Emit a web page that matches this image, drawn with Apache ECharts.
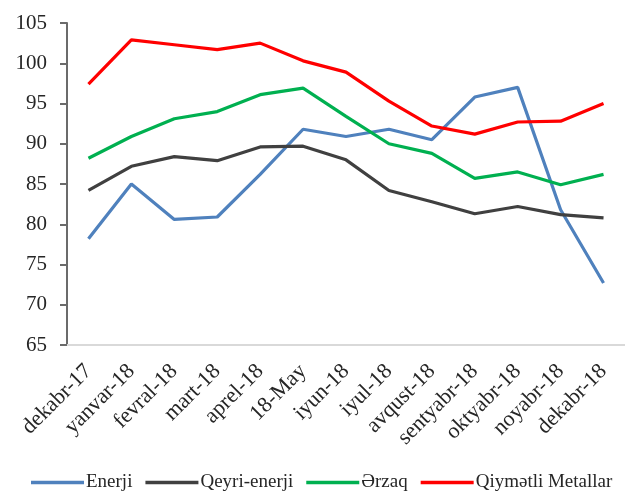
<!DOCTYPE html>
<html><head><meta charset="utf-8">
<script src="https://cdn.jsdelivr.net/npm/echarts@6/dist/echarts.min.js"></script>
<style>html,body{margin:0;padding:0;background:#fff}#c{width:625px;height:493px}</style>
</head><body><div id="c"></div>
<script>
const categories = ['dekabr-17','yanvar-18','fevral-18','mart-18','aprel-18','18-May','iyun-18','iyul-18','avqust-18','sentyabr-18','oktyabr-18','noyabr-18','dekabr-18'];
const enerji = [78.2, 85.0, 80.6, 80.9, 86.2, 91.8, 90.9, 91.8, 90.5, 95.8, 97.0, 81.8, 72.7];
const qeyriEnerji = [84.2, 87.2, 88.4, 87.9, 89.6, 89.7, 88.0, 84.2, 82.8, 81.3, 82.2, 81.2, 80.8];
const erzaq = [88.2, 90.9, 93.1, 94.0, 96.1, 96.9, 93.4, 90.0, 88.8, 85.7, 86.5, 84.9, 86.2];
const metallar = [97.4, 102.9, 102.3, 101.7, 102.5, 100.3, 98.9, 95.3, 92.2, 91.2, 92.7, 92.8, 95.0];
const seriesNames = ['Enerji','Qeyri-enerji','Ərzaq','Qiymətli Metallar'];
const colors = ['#4F81BD','#404040','#00B050','#FF0000'];

const chart = echarts.init(document.getElementById('c'));
const font = '"Liberation Serif", "DejaVu Serif", serif';
const mk = (name, data, color) => ({
  name, type: 'line', data, symbol: 'none', smooth: false,
  lineStyle: {width: 3.2, color}, itemStyle: {color}
});
chart.setOption({
  animation: false,
  color: colors,
  grid: {left: 67, top: 23, width: 564, height: 322, containLabel: false},
  legend: {
    top: 468, left: 26, width: 640, itemWidth: 53, itemHeight: 3.5, itemGap: 13,
    icon: 'rect',
    textStyle: {fontFamily: font, fontSize: 19, color: '#262626', padding: [0,0,0,-3]},
    data: seriesNames
  },
  xAxis: {
    type: 'category', data: categories, boundaryGap: true,
    axisLine: {show: true, lineStyle: {color: '#d9d9d9', width: 2}},
    axisTick: {show: false},
    axisLabel: {rotate: 45, interval: 0, fontFamily: font, fontSize: 22, color: '#262626', margin: 23}
  },
  yAxis: {
    type: 'value', min: 65, max: 105, interval: 5,
    splitLine: {show: false},
    axisLine: {show: true, lineStyle: {color: '#6b6b6b', width: 2}},
    axisTick: {show: true, inside: false, length: 7, lineStyle: {color: '#6b6b6b', width: 2}},
    axisLabel: {fontFamily: font, fontSize: 21, color: '#262626', margin: 20}
  },
  series: [
    mk(seriesNames[0], enerji, colors[0]),
    mk(seriesNames[1], qeyriEnerji, colors[1]),
    mk(seriesNames[2], erzaq, colors[2]),
    mk(seriesNames[3], metallar, colors[3])
  ]
});
</script></body></html>
